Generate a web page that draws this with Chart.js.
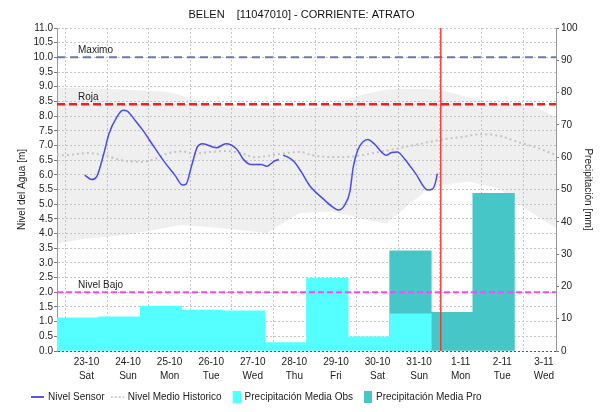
<!DOCTYPE html>
<html>
<head>
<meta charset="utf-8">
<title>BELEN - Nivel del Agua</title>
<script src="https://cdn.jsdelivr.net/npm/chart.js@4.4.0/dist/chart.umd.min.js"></script>
<style>
  html, body { margin: 0; padding: 0; background: #fff; }
</style>
</head>
<body>
<canvas id="levelChart" width="603" height="412"></canvas>
<script>
// hours are counted from 23-10 00:00
const chartTitle = 'BELEN    [11047010] - CORRIENTE: ATRATO';
const dayLabels = ['23-10', '24-10', '25-10', '26-10', '27-10', '28-10', '29-10', '30-10', '31-10', '1-11', '2-11', '3-11'];
const weekDays = ['Sat', 'Sun', 'Mon', 'Tue', 'Wed', 'Thu', 'Fri', 'Sat', 'Sun', 'Mon', 'Tue', 'Wed'];
const windowStart = -17;
const windowEnd = 271;
const nowHour = 204.5;

const sensorHours = [-1, 3, 6, 10, 13, 17, 21, 23.5, 28, 32.5, 39, 45, 51, 55.5, 57.5, 60.5, 64, 67, 75, 80.5, 86.5, 91, 95,
  101, 104, 106.5, 108.5, 111, 112, 113.5, 116, 120, 124, 129, 136.5, 142, 145.5, 149, 152, 154, 156.5, 159.5, 162.5,
  166, 173, 176, 179.5, 183.5, 190, 197, 200, 201.5, 202.5];
const sensorLevel = [5.99, 5.84, 5.95, 6.72, 7.40, 7.91, 8.20, 8.17, 7.86, 7.52, 6.95, 6.44, 5.99, 5.65, 5.68, 6.27, 6.95, 7.06, 6.92, 7.06, 6.89, 6.50, 6.35,
  6.35, 6.29, 6.38, 6.47, 6.52, null, 6.67, 6.61, 6.44, 6.10, 5.62, 5.19, 4.91, 4.80, 4.97, 5.42, 6.27, 6.84, 7.12, 7.20,
  7.06, 6.67, 6.76, 6.78, 6.55, 6.04, 5.48, 5.53, 5.76, 6.04];

const histHours = [-17, -13, 1, 10, 20, 32, 39, 47, 55, 62, 72, 81, 89, 97, 113, 123, 130, 140, 150, 159, 169, 179, 188, 198, 208, 217, 227, 238, 250, 261, 271];
const histLevel = [6.70, 6.67, 6.74, 6.67, 6.50, 6.44, 6.53, 6.73, 6.80, 6.73, 6.78, 6.81, 6.74, 6.60, 6.72, 6.78, 6.67, 6.61, 6.61, 6.67, 6.78, 6.89, 7.00, 7.12, 7.23, 7.29, 7.38, 7.33, 7.10, 6.90, 6.67];

const bandHours = [-17, 0, 24, 46, 54, 60, 69, 75, 98, 104, 123, 132, 142, 152, 162, 173, 185, 196, 204, 210, 219, 221, 238, 250, 261, 271];
const bandHigh = [8.97, 8.95, 8.90, 8.83, 8.72, 8.60, 8.43, 8.32, 8.27, 8.27, 8.26, 8.28, 8.40, 8.60, 8.77, 8.90, 8.93, 8.93, 8.89, 8.80, 8.66, 8.64, 8.44, 8.35, 8.27, 7.95];
const bandLow = [3.66, 3.83, 3.96, 4.20, 4.29, 4.27, 4.23, 4.20, 4.06, 4.00, 4.70, 4.73, 4.74, 4.62, 4.46, 4.34, 4.93, 5.47, 5.62, 5.70, 5.75, 5.76, 5.53, 5.00, 4.55, 4.20];

// daily rain, each window runs 07:00 to 07:00
const rainStart = [-17, 7, 31, 55, 79, 103, 127, 151, 175, 199, 223];
const rainObs = [10.3, 10.6, 13.9, 12.7, 12.4, 2.6, 22.6, 4.4, 11.5, null, null];
const rainPro = [null, null, null, null, null, null, null, null, 31.0, 12.0, 48.8];

const thresholdNames = ['Maximo', 'Roja', 'Nivel Bajo'];
const thresholdLevels = [10.0, 8.4, 2.0];
const thresholdStyles = [
  { color: '#6a78b2', width: 2, dash: [8, 5] },
  { color: '#ff1a1a', width: 2.5, dash: [8, 4] },
  { color: '#ff44ff', width: 2, dash: [6, 3] }
];

Chart.defaults.font.family = "'Liberation Sans', Arial, sans-serif";
Chart.defaults.font.size = 10;
Chart.defaults.color = '#222';

function points(xs, ys) {
  return xs.map((x, i) => ({ x: x, y: ys[i] }));
}
function rainPoints(values) {
  return rainStart.map((s, i) => ({ x: s + 12, y: values[i] })).filter(p => p.y !== null);
}

function makeIcon(draw) {
  const c = document.createElement('canvas');
  c.width = 13;
  c.height = 12;
  draw(c.getContext('2d'));
  return c;
}
const legendIcons = [
  makeIcon(g => { g.strokeStyle = '#2020d0'; g.lineWidth = 1.5; g.beginPath(); g.moveTo(0, 6); g.lineTo(13, 6); g.stroke(); }),
  makeIcon(g => { g.strokeStyle = '#bbbbbb'; g.lineWidth = 1.5; g.setLineDash([2, 2]); g.beginPath(); g.moveTo(0, 6); g.lineTo(13, 6); g.stroke(); }),
  makeIcon(g => { g.fillStyle = '#55ffff'; g.fillRect(5, 0, 8, 12); }),
  makeIcon(g => { g.fillStyle = '#46c6c6'; g.fillRect(5, 0, 8, 12); })
];

const markerPlugin = {
  id: 'markers',
  afterLayout(chart) {
    chart.legend.left = 25;
  },
  afterDatasetsDraw(chart) {
    const { ctx, chartArea: a, scales } = chart;
    ctx.save();
    ctx.beginPath();
    ctx.rect(a.left, a.top, a.right - a.left, a.bottom - a.top);
    ctx.clip();
    thresholdLevels.forEach((lvl, i) => {
      const st = thresholdStyles[i];
      const y = scales.y.getPixelForValue(lvl);
      ctx.strokeStyle = st.color;
      ctx.lineWidth = st.width;
      ctx.setLineDash(st.dash);
      ctx.beginPath();
      ctx.moveTo(a.left, y);
      ctx.lineTo(a.right, y);
      ctx.stroke();
      ctx.setLineDash([]);
      ctx.fillStyle = '#222';
      ctx.font = "10px 'Liberation Sans', Arial, sans-serif";
      ctx.textBaseline = 'bottom';
      ctx.fillText(thresholdNames[i], a.left + 21, y - 2);
    });
    const x = scales.x.getPixelForValue(nowHour);
    ctx.setLineDash([]);
    ctx.strokeStyle = 'rgb(255, 40, 40)';
    ctx.lineWidth = 1.3;
    ctx.beginPath();
    ctx.moveTo(x, a.top);
    ctx.lineTo(x, a.bottom);
    ctx.stroke();
    ctx.restore();
  }
};

const gridColor = '#c6c6c6';

new Chart(document.getElementById('levelChart'), {
  data: {
    datasets: [{
      type: 'line',
      label: 'Nivel Sensor',
      data: points(sensorHours, sensorLevel),
      yAxisID: 'y',
      borderColor: '#4a4af2',
      borderWidth: 1.5,
      pointRadius: 0,
      cubicInterpolationMode: 'monotone',
      spanGaps: false,
      fill: false
    }, {
      type: 'line',
      label: 'Nivel Medio Historico',
      data: points(histHours, histLevel),
      yAxisID: 'y',
      borderColor: '#c4c4c4',
      borderWidth: 2,
      borderDash: [2, 3],
      pointRadius: 0,
      cubicInterpolationMode: 'monotone',
      fill: false
    }, {
      type: 'bar',
      label: 'Precipitación Media Obs',
      data: rainPoints(rainObs),
      yAxisID: 'y2',
      backgroundColor: '#55ffff',
      borderWidth: 0,
      grouped: false,
      barPercentage: 1,
      categoryPercentage: 1
    }, {
      type: 'bar',
      label: 'Precipitación Media Pro',
      data: rainPoints(rainPro),
      yAxisID: 'y2',
      backgroundColor: '#46c6c6',
      borderWidth: 0,
      grouped: false,
      barPercentage: 1,
      categoryPercentage: 1
    }, {
      type: 'line',
      label: 'band high',
      data: points(bandHours, bandHigh),
      yAxisID: 'y',
      borderWidth: 0,
      borderColor: 'rgba(0,0,0,0)',
      pointRadius: 0,
      backgroundColor: '#efefef',
      fill: '+1'
    }, {
      type: 'line',
      label: 'band low',
      data: points(bandHours, bandLow),
      yAxisID: 'y',
      borderWidth: 0,
      borderColor: 'rgba(0,0,0,0)',
      pointRadius: 0,
      fill: false
    }]
  },
  options: {
    responsive: false,
    animation: false,
    layout: { padding: 0 },
    plugins: {
      filler: { drawTime: 'beforeDraw' },
      tooltip: { enabled: false },
      title: {
        display: true,
        text: chartTitle,
        color: '#111',
        font: { size: 11, weight: 'normal' },
        padding: { top: 8, bottom: 6.8 }
      },
      legend: {
        position: 'bottom',
        align: 'start',
        labels: {
          usePointStyle: true,
          pointStyleWidth: 11,
          boxHeight: 10,
          padding: 7,
          color: '#222',
          font: { size: 10 },
          generateLabels(chart) {
            const items = Chart.defaults.plugins.legend.labels.generateLabels(chart);
            return items.filter(it => it.datasetIndex < 4)
              .map(it => Object.assign(it, { pointStyle: legendIcons[it.datasetIndex] }));
          }
        }
      }
    },
    scales: {
      x: {
        type: 'linear',
        min: windowStart,
        max: windowEnd,
        offset: false,
        afterBuildTicks(scale) {
          scale.ticks = dayLabels.map((d, i) => ({ value: i * 24 }));
        },
        afterFit(scale) { scale.height = 34; },
        ticks: {
          autoSkip: false,
          maxRotation: 0,
          padding: 4,
          font: { size: 10, lineHeight: 1.4 },
          callback(value) {
            const i = Math.round(value / 24);
            return [dayLabels[i], weekDays[i]];
          }
        },
        grid: { color: gridColor, drawTicks: false },
        border: { display: false, dash: [2, 2] }
      },
      y: {
        position: 'left',
        min: 0,
        max: 11,
        afterFit(scale) { scale.width = 57; },
        ticks: {
          stepSize: 0.5,
          autoSkip: false,
          padding: 1,
          callback(value) { return value.toFixed(1); }
        },
        grid: {
          color: ctx => (ctx.tick && ctx.tick.value === 0 ? '#555' : gridColor),
          tickLength: 3,
          tickColor: '#777'
        },
        border: { display: true, color: '#999', dash: [2, 2] },
        title: {
          display: true,
          text: 'Nivel del Agua [m]',
          font: { size: 10 },
          padding: { top: 16, bottom: 0 }
        }
      },
      y2: {
        position: 'right',
        min: 0,
        max: 100,
        afterFit(scale) { scale.width = 47; },
        ticks: { stepSize: 10, autoSkip: false, padding: 2 },
        grid: { drawOnChartArea: false, tickLength: 3, tickColor: '#777' },
        border: { display: true, color: '#999' },
        title: {
          display: true,
          text: 'Precipitación [mm]',
          font: { size: 10 },
          padding: { top: 9, bottom: 0 }
        }
      }
    }
  },
  plugins: [markerPlugin]
});
</script>
</body>
</html>
